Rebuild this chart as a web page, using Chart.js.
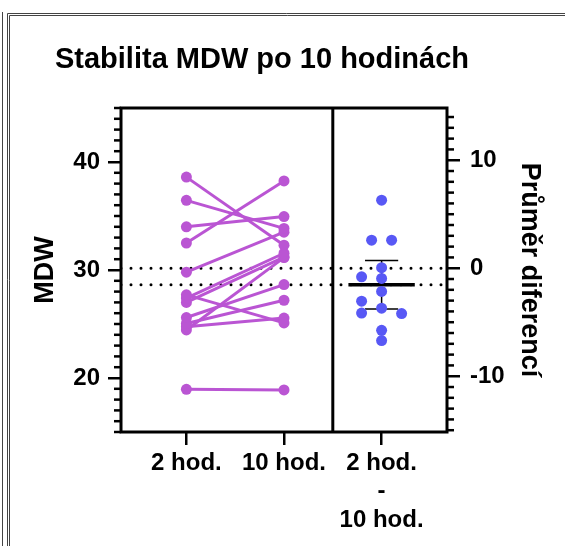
<!DOCTYPE html>
<html>
<head>
<meta charset="utf-8">
<script src="https://cdn.jsdelivr.net/npm/chart.js@4.4.1/dist/chart.umd.min.js"></script>
<style>
  html, body { margin: 0; padding: 0; background: #fff; }
</style>
</head>
<body>
<canvas id="mdw" width="565" height="546"></canvas>
<script>
// MDW of the same samples measured after 2 h and after 10 h
const groupLabels = ['2 hod.', '10 hod.'];
const diffLabel = ['2 hod.', '-', '10 hod.'];
const hod2  = [38.6, 36.45, 34.0, 32.5, 29.8, 27.7, 27.4, 27.0, 25.6, 25.05, 24.75, 24.45, 18.95];
const hod10 = [32.3, 33.85, 34.95, 38.25, 33.5, 25.1, 31.55, 31.2, 28.65, 27.2, 25.55, 31.15, 18.9];
const leftRange = [15, 45];
const leftTicks = [20, 30, 40];
const rightTicks = [-10, 0, 10];

const purple = 'rgb(186, 85, 211)';
const blue = 'rgb(88, 88, 245)';
const FONT = 'Liberation Sans, Arial, sans-serif';

// paired differences, their mean and 95% CI (t for df = 12)
const diffs = hod2.map((v, i) => v - hod10[i]);
const mean = a => a.reduce((s, v) => s + v, 0) / a.length;
const mean2 = mean(hod2);
const mean10 = mean(hod10);
const meanDiff = mean(diffs);
const sd = Math.sqrt(diffs.reduce((s, v) => s + (v - meanDiff) ** 2, 0) / (diffs.length - 1));
const T975 = 2.179;
const ci = T975 * sd / Math.sqrt(diffs.length);

// right axis: 0 sits on the 10 hod. mean
const rightRange = [leftRange[0] - mean10, leftRange[1] - mean10];

// simple beeswarm for the difference column
function swarm(values, step, gap) {
  const idx = values.map((v, i) => i).sort((a, b) => values[b] - values[a]);
  const off = new Array(values.length);
  const placed = [];
  let k = 0;
  while (k < idx.length) {
    let n = 1;
    while (k + n < idx.length && Math.abs(values[idx[k]] - values[idx[k + n]]) < 0.02) n++;
    if (n > 1) {
      // equal values sit side by side
      for (let j = 0; j < n; j++) {
        const o = (j - (n - 1) / 2) * step;
        off[idx[k + j]] = o;
        placed.push([o, values[idx[k + j]]]);
      }
    } else {
      const v = values[idx[k]];
      for (const o of [0, -step, step, -2 * step, 2 * step]) {
        const hit = placed.some(p => Math.abs(p[0] - o) < step * 0.99 && Math.abs(p[1] - v) < gap);
        if (!hit) { off[idx[k]] = o; placed.push([o, v]); break; }
      }
    }
    k += n;
  }
  return off;
}
const jitter = swarm(diffs, 0.205, 0.92);

const xMin = -0.67, xMax = 2.67;

const pairSets = hod2.map((v, i) => ({
  type: 'line',
  data: [{x: 0, y: v}, {x: 1, y: hod10[i]}],
  borderColor: purple,
  backgroundColor: purple,
  borderWidth: 3,
  pointRadius: 5.5,
  pointHoverRadius: 5.5,
  pointBorderWidth: 0,
  yAxisID: 'y',
  order: 5
}));

const dotted = [mean10, mean2].map(m => ({
  type: 'line',
  data: [{x: xMin, y: m}, {x: xMax, y: m}],
  borderColor: '#000',
  borderWidth: 3,
  borderDash: [0, 10],
  borderCapStyle: 'round',
  pointRadius: 0,
  yAxisID: 'y',
  order: 10
}));

const diffSet = {
  type: 'scatter',
  data: diffs.map((d, i) => ({x: 2 + jitter[i], y: d})),
  backgroundColor: blue,
  borderWidth: 0,
  pointRadius: 5.5,
  pointHoverRadius: 5.5,
  yAxisID: 'y2',
  order: 1
};

const meanBar = {
  type: 'line',
  data: [{x: 2 - 0.34, y: meanDiff}, {x: 2 + 0.34, y: meanDiff}],
  borderColor: '#000', borderWidth: 3.5, pointRadius: 0, yAxisID: 'y2', order: 2
};
const ciLine = {
  type: 'line',
  data: [{x: 2, y: meanDiff - ci}, {x: 2, y: meanDiff + ci}],
  borderColor: '#000', borderWidth: 1.5, pointRadius: 0, yAxisID: 'y2', order: 2
};
const ciCaps = [meanDiff - ci, meanDiff + ci].map(y => ({
  type: 'line',
  data: [{x: 2 - 0.17, y}, {x: 2 + 0.17, y}],
  borderColor: '#000', borderWidth: 1.5, pointRadius: 0, yAxisID: 'y2', order: 2
}));

// plot frame, divider, minor ticks, window edges and heading
const decorations = {
  id: 'decorations',
  afterDatasetsDraw(chart) {
    const {ctx, chartArea: a} = chart;
    const xs = chart.scales.x;
    ctx.save();
    ctx.strokeStyle = '#000';
    ctx.lineWidth = 3;
    ctx.strokeRect(a.left, a.top, a.right - a.left, a.bottom - a.top);
    const xd = xs.getPixelForValue(1.5);
    ctx.beginPath(); ctx.moveTo(xd, a.top); ctx.lineTo(xd, a.bottom); ctx.stroke();

    ctx.lineWidth = 2.5;
    [['y', -1, a.left], ['y2', 1, a.right]].forEach(([id, dir, edge]) => {
      const s = chart.scales[id];
      for (let v = Math.ceil(s.min); v <= Math.floor(s.max); v++) {
        if (v % 10 === 0) continue;
        const y = s.getPixelForValue(v);
        ctx.beginPath(); ctx.moveTo(edge, y); ctx.lineTo(edge + dir * 7, y); ctx.stroke();
      }
    });

    ctx.strokeStyle = '#444';
    ctx.lineWidth = 1;
    ctx.beginPath();
    ctx.moveTo(2.5, 12); ctx.lineTo(2.5, 546);
    ctx.moveTo(7.5, 546); ctx.lineTo(7.5, 13.5); ctx.lineTo(565, 13.5);
    ctx.moveTo(9.5, 546); ctx.lineTo(9.5, 15.5); ctx.lineTo(565, 15.5);
    ctx.stroke();

    ctx.fillStyle = '#000';
    ctx.font = 'bold 29px ' + FONT;
    ctx.textAlign = 'center';
    ctx.textBaseline = 'middle';
    ctx.fillText('Stabilita MDW po 10 hodinách', 262, 60);
    ctx.restore();
  }
};

const tickFont = {family: FONT, size: 24, weight: 'bold', lineHeight: 1.19};
const titleFont = {family: FONT, size: 27, weight: 'bold'};
const tickGrid = {drawOnChartArea: false, drawTicks: true, tickLength: 13, lineWidth: 2.5, color: '#000'};
const fixTicks = list => s => { s.ticks = list.map(v => ({value: v})); };

new Chart('mdw', {
  data: {datasets: [meanBar, ciLine, ...ciCaps, diffSet, ...pairSets, ...dotted]},
  options: {
    responsive: false,
    animation: false,
    layout: {padding: {top: 108, left: 0, right: 0, bottom: 0}},
    plugins: {
      legend: {display: false},
      title: {display: false},
      tooltip: {enabled: false}
    },
    scales: {
      x: {
        type: 'linear',
        min: xMin,
        max: xMax,
        afterBuildTicks: fixTicks([0, 1, 2]),
        afterFit: s => { s.height = 114; },
        border: {display: false},
        grid: tickGrid,
        ticks: {
          color: '#000',
          font: tickFont,
          padding: 4,
          maxRotation: 0,
          callback: v => (v === 2 ? diffLabel : groupLabels[v])
        }
      },
      y: {
        position: 'left',
        min: leftRange[0],
        max: leftRange[1],
        afterBuildTicks: fixTicks(leftTicks),
        afterFit: s => { s.width = 121; },
        border: {display: false},
        grid: tickGrid,
        ticks: {color: '#000', font: tickFont, padding: 8},
        title: {display: true, text: 'MDW', color: '#000', font: titleFont, padding: {top: 29}}
      },
      y2: {
        position: 'right',
        min: rightRange[0],
        max: rightRange[1],
        afterBuildTicks: fixTicks(rightTicks),
        afterFit: s => { s.width = 118; },
        border: {display: false},
        grid: tickGrid,
        ticks: {color: '#000', font: tickFont, padding: 10},
        title: {display: true, text: 'Průměr diferencí', color: '#000', font: titleFont, padding: {top: 19}}
      }
    }
  },
  plugins: [decorations]
});
</script>
</body>
</html>
